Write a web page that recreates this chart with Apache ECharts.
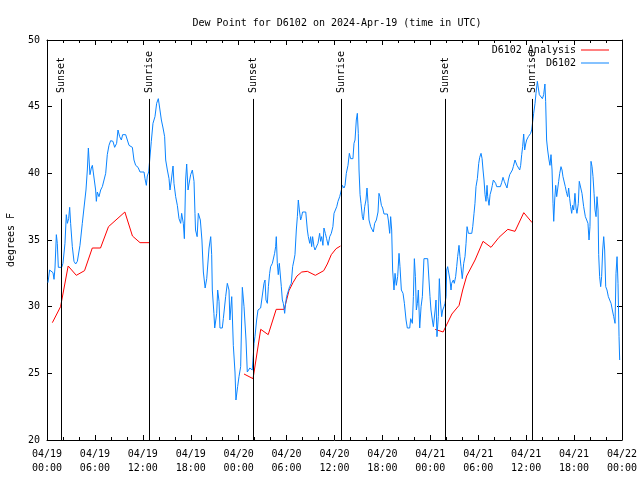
<!DOCTYPE html>
<html>
<head>
<meta charset="utf-8">
<script src="https://cdn.jsdelivr.net/npm/echarts@6/dist/echarts.min.js"></script>
<style>html,body{margin:0;padding:0;background:#fff}#c{width:640px;height:480px}</style>
</head>
<body>
<div id="c"></div>
<script>
// hours since 2024-04-19 00:00 UTC
const titleText = 'Dew Point for D6102 on 2024-Apr-19 (time in UTC)';
const tickLabels = ['04/19\n00:00','04/19\n06:00','04/19\n12:00','04/19\n18:00','04/20\n00:00','04/20\n06:00','04/20\n12:00','04/20\n18:00','04/21\n00:00','04/21\n06:00','04/21\n12:00','04/21\n18:00','04/22\n00:00'];
const sunHours = [1.84, 12.81, 25.84, 36.86, 49.88, 60.77];
const sunNames = ['Sunset','Sunrise','Sunset','Sunrise','Sunset','Sunrise'];

const analysisSeg1 = [[0.67,28.8],[1.7,30.0],[2.65,33.05],[3.67,32.35],[4.7,32.7],[5.67,34.4],[6.7,34.4],[7.7,36.0],[9.75,37.1],[10.7,35.3],[11.65,34.8],[12.8,34.8]];
const analysisSeg2 = [[24.67,24.95],[25.8,24.6],[26.76,28.3],[27.7,27.9],[28.7,29.8],[29.7,29.8],[30.3,31.2],[30.8,31.8],[31.3,32.3],[31.9,32.6],[32.6,32.65],[33.6,32.35],[34.65,32.7],[35.1,33.2],[35.6,33.9],[36.2,34.35],[36.75,34.55]];
const analysisSeg3 = [[48.6,28.3],[49.6,28.1],[50.7,29.45],[51.6,30.1],[52.05,31.25],[52.55,32.3],[53.6,33.5],[54.6,34.9],[55.6,34.45],[56.6,35.2],[57.7,35.8],[58.6,35.65],[59.7,37.05],[60.75,36.3]];

const stationA = [[0.12,31.8],[0.33,32.75],[0.54,32.75],[0.75,32.55],[0.88,32.05],[1.0,32.9],[1.17,35.4],[1.29,34.75],[1.42,32.95],[1.84,32.95],[2.0,33.25],[2.25,34.75],[2.42,36.9],[2.55,36.25],[2.71,36.6],[2.84,37.45],[2.96,36.25],[3.17,34.5],[3.38,33.4],[3.59,33.2],[3.8,33.4],[4.13,34.6],[4.42,36.25],[4.63,37.4],[4.88,38.75],[5.05,40.25],[5.18,41.9],[5.38,39.9],[5.55,40.4],[5.68,40.6],[5.89,40.75],[6.09,38.75],[6.18,37.9],[6.3,38.6],[6.51,38.25],[6.72,38.75],[6.93,39.0],[7.14,38.9],[7.35,40.0],[7.55,41.4],[7.76,42.1],[7.97,42.45],[8.26,42.4],[8.47,41.95],[8.72,42.25],[8.89,43.25],[9.1,42.75],[9.31,42.5],[9.47,42.9],[9.85,42.9],[10.06,42.5],[10.27,42.1],[10.48,42.0],[10.69,41.95],[10.89,41.0],[11.1,40.6],[11.4,40.45],[11.65,40.1],[12.15,40.1],[12.27,39.6],[12.44,39.1],[12.56,39.8],[12.73,40.1],[12.9,40.1],[13.06,42.4],[13.27,43.75],[13.52,44.25],[13.73,45.25],[13.94,45.6],[14.11,44.9],[14.32,44.0],[14.53,43.4],[14.73,42.75],[14.86,41.0],[15.07,40.25],[15.28,39.6],[15.4,38.75],[15.57,39.5],[15.78,40.55],[15.9,39.25],[16.11,38.25],[16.32,37.6],[16.53,36.6],[16.74,36.25],[16.86,37.0],[17.07,36.25],[17.2,35.1],[17.36,39.5],[17.49,40.7],[17.66,38.75],[17.78,39.2],[17.99,39.9],[18.2,40.25],[18.41,39.4]];
const stationB = [[18.53,37.0],[18.6,35.75],[18.8,35.25],[18.95,37.0],[19.2,36.5],[19.4,35.0],[19.58,32.6],[19.8,31.4],[20.0,32.1],[20.29,34.4],[20.5,35.25],[20.62,33.9],[20.7,31.25],[20.9,29.5],[21.0,28.4],[21.25,29.5],[21.37,31.25],[21.54,30.4],[21.66,28.4],[21.95,28.4],[22.08,29.1],[22.37,30.75],[22.58,31.75],[22.79,31.25],[22.9,29.0],[23.13,30.75],[23.33,27.1],[23.54,25.1],[23.66,23.0],[23.87,24.0],[24.04,24.75],[24.25,25.5],[24.46,31.45],[24.67,30.0],[24.8,30.0],[24.92,27.5],[25.08,25.1],[25.4,25.4],[25.7,25.25],[25.84,26.4]];
const stationC = [[25.92,27.25],[26.04,27.75],[26.25,29.0],[26.42,29.75],[26.75,29.9],[26.96,29.9],[27.17,31.75],[27.3,32.0],[27.42,30.5],[27.59,30.25],[27.72,31.5],[27.88,32.5],[28.0,33.0],[28.22,33.25],[28.34,33.1],[28.5,34.0],[28.63,34.5],[28.71,35.25],[28.84,33.25],[28.96,32.4],[29.09,33.25],[29.26,33.4],[29.34,31.5],[29.47,30.5],[29.59,30.25],[29.76,29.5],[29.88,30.25],[30.0,30.75],[30.2,30.75],[30.38,31.5],[30.59,31.75],[30.76,33.0],[30.93,33.5],[31.05,33.9],[31.22,35.75],[31.35,36.75],[31.47,38.0],[31.6,37.25],[31.76,36.5],[31.88,36.75],[32.0,37.1],[32.4,37.1],[32.6,35.75],[32.72,35.25],[32.9,34.75],[33.01,35.25],[33.14,34.5],[33.26,35.25],[33.43,34.5],[33.56,34.25],[33.76,34.25],[33.93,34.75],[34.14,35.5],[34.26,34.9],[34.39,35.25],[34.55,34.6],[34.68,35.9],[34.85,35.5],[35.01,35.1],[35.2,34.6],[35.4,35.25],[35.6,35.5],[35.8,36.0],[35.94,37.0],[36.15,36.9],[36.28,37.5],[36.44,37.9],[36.65,38.25],[36.86,38.75],[36.98,39.1],[37.19,38.9],[37.32,39.1],[37.48,40.0],[37.69,40.6],[37.86,41.5],[38.02,41.1],[38.31,41.1],[38.44,42.25],[38.57,42.5],[38.73,44.0],[38.86,44.5],[38.98,43.0],[39.07,40.25],[39.2,38.4],[39.32,37.75],[39.49,36.75],[39.61,36.5],[39.78,37.5],[39.94,38.0],[40.07,38.9],[40.2,37.75],[40.32,36.5],[40.53,36.0],[40.74,35.9],[40.86,35.6],[41.03,36.25],[41.24,36.5],[41.45,37.1],[41.57,38.5],[41.7,38.25],[41.87,37.6],[42.03,37.4],[42.2,36.95],[42.62,36.95],[42.74,36.5],[42.91,35.5],[43.03,36.75],[43.16,35.75],[43.28,32.75],[43.45,31.25],[43.58,32.5],[43.74,31.6],[43.91,32.25],[44.08,34.0],[44.2,33.0],[44.37,31.25],[44.58,31.0],[44.75,30.25],[44.96,29.0],[45.12,28.4],[45.42,28.4],[45.54,29.1],[45.75,28.75],[45.88,30.75],[46.0,33.6],[46.13,32.25],[46.25,29.75],[46.38,30.25],[46.5,31.25],[46.67,28.4],[46.84,30.0],[47.0,30.75],[47.2,33.6]];
const stationD = [[47.33,33.6],[47.67,33.6],[47.83,32.0],[47.96,30.75],[48.08,29.75],[48.25,29.0],[48.38,28.5],[48.6,29.75],[48.71,30.5],[48.83,27.75],[49.0,29.25],[49.13,32.1],[49.25,30.5],[49.42,29.25],[49.55,29.75],[49.71,30.0],[49.84,30.25],[49.97,30.75],[50.05,32.75],[50.17,33.0],[50.38,33.0],[50.46,32.0],[50.59,31.25],[50.67,31.75],[50.88,32.0],[51.0,31.75],[51.17,32.25],[51.3,33.0],[51.42,33.75],[51.59,34.6],[51.71,33.75],[51.84,33.0],[52.0,32.1],[52.18,33.25],[52.34,33.75],[52.47,34.75],[52.6,36.0],[52.77,35.5],[52.98,35.4],[53.19,35.5],[53.31,36.0],[53.47,37.0],[53.59,37.75],[53.72,39.0],[53.89,39.6],[54.06,40.75],[54.18,41.2],[54.35,41.5],[54.48,41.1],[54.6,40.25],[54.72,39.5],[54.85,38.4],[54.97,37.9],[55.1,39.1],[55.18,38.25],[55.35,37.6],[55.48,38.4],[55.64,38.75],[55.76,39.1],[55.89,39.5],[56.01,39.4],[56.18,39.25],[56.31,39.0],[56.77,39.0],[56.93,39.3],[57.1,39.7],[57.26,39.4],[57.43,39.25],[57.6,38.9],[57.77,39.5],[57.94,39.9],[58.1,39.9],[58.27,40.25],[58.39,40.5],[58.6,41.0],[58.72,40.9],[58.85,40.6],[59.02,40.5],[59.19,40.25],[59.31,40.6],[59.44,41.4],[59.56,42.0],[59.69,42.95],[59.81,41.75],[59.94,42.2],[60.06,42.5],[60.27,42.75],[60.4,42.9],[60.56,43.0],[60.69,43.25],[60.82,43.9],[60.94,44.5],[61.11,45.25],[61.23,46.0],[61.4,46.9],[61.52,46.4],[61.65,45.9],[61.82,45.75],[62.03,45.6],[62.19,45.9],[62.35,46.7],[62.44,45.4],[62.56,42.5],[62.69,41.75],[62.86,41.0],[62.98,40.6],[63.11,41.4],[63.24,40.25],[63.36,37.75],[63.45,36.4],[63.57,38.0],[63.7,39.1],[63.82,38.25],[63.95,38.25],[64.07,39.4],[64.2,40.0],[64.36,40.5],[64.49,40.25],[64.61,39.75],[64.78,39.6],[64.9,39.0],[65.07,38.5],[65.2,38.25],[65.32,38.9],[65.45,38.1],[65.57,37.5],[65.7,37.0],[65.82,37.6],[65.95,37.25],[66.11,38.5],[66.24,37.4],[66.36,37.0],[66.53,37.75],[66.65,39.4],[66.86,39.4],[66.99,38.5],[67.2,37.5],[67.28,37.5],[67.41,36.75],[67.58,36.5],[67.74,36.25],[67.87,35.0],[67.99,36.0],[68.12,40.9],[68.25,40.5],[68.37,39.75],[68.5,38.5],[68.62,37.25],[68.75,36.75],[68.87,38.25],[69.0,37.25],[69.08,33.9],[69.2,32.25],[69.33,31.5],[69.45,32.25],[69.58,34.25],[69.71,35.25],[69.83,34.25],[69.96,31.5],[70.12,31.25],[70.29,30.75],[70.46,30.5],[70.63,30.25],[70.79,29.75],[70.96,29.25],[71.13,28.75],[71.25,32.5],[71.38,33.75],[71.5,31.75],[71.63,27.75],[71.71,26.0]];

const FONT = 'DejaVu Sans Mono';
const analysisData = analysisSeg1.concat([[18.7,'-']], analysisSeg2, [[42.7,'-']], analysisSeg3);
const stationData = stationA.concat(stationB, stationC, stationD);

const sunLines = sunHours.map(h => [{coord:[h,20]},{coord:[h,45.58]}]);
const sunLabels = sunHours.map((h,i) => ({coord:[h,46.02], name:sunNames[i], value:sunNames[i]}));

const xAxisBase = {
  type:'value', min:0, max:72, interval:6, gridIndex:0,
  axisLine:{show:true, onZero:false, lineStyle:{color:'#000', width:1}},
  axisTick:{show:true, inside:true, length:5, lineStyle:{color:'#000'}},
  minorTick:{show:true, splitNumber:3, length:3, lineStyle:{color:'#000'}},
  splitLine:{show:false}, minorSplitLine:{show:false}
};
const yAxisBase = {
  type:'value', min:20, max:50, interval:5, gridIndex:0,
  axisLine:{show:true, onZero:false, lineStyle:{color:'#000', width:1}},
  axisTick:{show:true, inside:true, length:5, lineStyle:{color:'#000'}},
  splitLine:{show:false}
};

const chart = echarts.init(document.getElementById('c'), null, {renderer:'canvas'});
chart.setOption({
  animation:false,
  backgroundColor:'#fff',
  title:{text:titleText, left:332, top:13, textAlign:'center',
    textStyle:{fontFamily:FONT, fontSize:10, fontWeight:'normal', color:'#000'}},
  grid:{left:47, right:18, top:40, bottom:40, containLabel:false, outerBoundsMode:'none'},
  legend:[
    {data:['D6102 Analysis'], right:31, top:45, padding:0, orient:'vertical', align:'right', itemWidth:28, itemHeight:1, icon:'rect', itemGap:0,
      textStyle:{fontFamily:FONT, fontSize:10, color:'#000'}},
    {data:['D6102'], right:31, top:58, padding:0, orient:'vertical', align:'right', itemWidth:28, itemHeight:1, icon:'rect', itemGap:0,
      textStyle:{fontFamily:FONT, fontSize:10, color:'#000'}}
  ],
  xAxis:[
    Object.assign({}, xAxisBase, {position:'bottom',
      axisLabel:{show:true, margin:7, fontFamily:FONT, fontSize:10, color:'#000', lineHeight:14,
        formatter:(v)=> tickLabels[Math.round(v/6)] || ''}}),
    Object.assign({}, xAxisBase, {position:'top', axisLabel:{show:false}})
  ],
  yAxis:[
    Object.assign({}, yAxisBase, {position:'left', name:'degrees F', nameLocation:'middle', nameGap:31,
      nameTextStyle:{fontFamily:FONT, fontSize:10, color:'#000'},
      axisLabel:{show:true, margin:7, fontFamily:FONT, fontSize:10, color:'#000'}}),
    Object.assign({}, yAxisBase, {position:'right', axisLabel:{show:false}})
  ],
  series:[
    {name:'D6102 Analysis', type:'line', xAxisIndex:0, yAxisIndex:0, data:analysisData,
      showSymbol:false, symbol:'none', connectNulls:false,
      lineStyle:{color:'#ff0000', width:1}, itemStyle:{color:'#ff0000'}},
    {name:'D6102', type:'line', xAxisIndex:0, yAxisIndex:0, data:stationData,
      showSymbol:false, symbol:'none',
      lineStyle:{color:'#0a84ff', width:1}, itemStyle:{color:'#0a84ff'},
      markLine:{silent:true, symbol:['none','none'], label:{show:false},
        lineStyle:{color:'#000', width:1, type:'solid'}, data:sunLines},
      markPoint:{silent:true, symbol:'circle', symbolSize:0, itemStyle:{color:'rgba(0,0,0,0)'},
        label:{show:true, position:'inside', rotate:90, align:'left', verticalAlign:'middle', distance:0,
          formatter:'{b}', fontFamily:FONT, fontSize:10, color:'#000'},
        data:sunLabels}
    }
  ]
});
</script>
</body>
</html>
